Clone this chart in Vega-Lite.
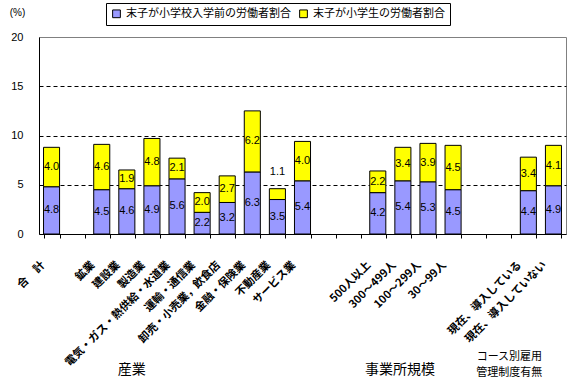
{
  "$schema": "https://vega.github.io/schema/vega-lite/v6.json",
  "width": 527,
  "height": 197,
  "autosize": {"type": "none"},
  "padding": {"left": 39, "top": 37, "right": 8, "bottom": 152},
  "background": "white",
  "config": {
    "view": {"stroke": "#808080", "strokeWidth": 1},
    "font": "Noto Sans CJK JP"
  },
  "datasets": {
    "rates": [
      {"cat": "合　計", "series": "末子が小学校入学前の労働者割合", "value": 4.8},
      {"cat": "合　計", "series": "末子が小学生の労働者割合", "value": 4.0},
      {"cat": "鉱業", "series": "末子が小学校入学前の労働者割合", "value": 4.5},
      {"cat": "鉱業", "series": "末子が小学生の労働者割合", "value": 4.6},
      {"cat": "建設業", "series": "末子が小学校入学前の労働者割合", "value": 4.6},
      {"cat": "建設業", "series": "末子が小学生の労働者割合", "value": 1.9},
      {"cat": "製造業", "series": "末子が小学校入学前の労働者割合", "value": 4.9},
      {"cat": "製造業", "series": "末子が小学生の労働者割合", "value": 4.8},
      {"cat": "電気・ガス・熱供給・水道業", "series": "末子が小学校入学前の労働者割合", "value": 5.6},
      {"cat": "電気・ガス・熱供給・水道業", "series": "末子が小学生の労働者割合", "value": 2.1},
      {"cat": "運輸・通信業", "series": "末子が小学校入学前の労働者割合", "value": 2.2},
      {"cat": "運輸・通信業", "series": "末子が小学生の労働者割合", "value": 2.0},
      {"cat": "卸売・小売業，飲食店", "series": "末子が小学校入学前の労働者割合", "value": 3.2},
      {"cat": "卸売・小売業，飲食店", "series": "末子が小学生の労働者割合", "value": 2.7},
      {"cat": "金融・保険業", "series": "末子が小学校入学前の労働者割合", "value": 6.3},
      {"cat": "金融・保険業", "series": "末子が小学生の労働者割合", "value": 6.2},
      {"cat": "不動産業", "series": "末子が小学校入学前の労働者割合", "value": 3.5},
      {"cat": "不動産業", "series": "末子が小学生の労働者割合", "value": 1.1},
      {"cat": "サービス業", "series": "末子が小学校入学前の労働者割合", "value": 5.4},
      {"cat": "サービス業", "series": "末子が小学生の労働者割合", "value": 4.0},
      {"cat": "500人以上", "series": "末子が小学校入学前の労働者割合", "value": 4.2},
      {"cat": "500人以上", "series": "末子が小学生の労働者割合", "value": 2.2},
      {"cat": "300～499人", "series": "末子が小学校入学前の労働者割合", "value": 5.4},
      {"cat": "300～499人", "series": "末子が小学生の労働者割合", "value": 3.4},
      {"cat": "100～299人", "series": "末子が小学校入学前の労働者割合", "value": 5.3},
      {"cat": "100～299人", "series": "末子が小学生の労働者割合", "value": 3.9},
      {"cat": "30～99人", "series": "末子が小学校入学前の労働者割合", "value": 4.5},
      {"cat": "30～99人", "series": "末子が小学生の労働者割合", "value": 4.5},
      {"cat": "現在、導入している", "series": "末子が小学校入学前の労働者割合", "value": 4.4},
      {"cat": "現在、導入している", "series": "末子が小学生の労働者割合", "value": 3.4},
      {"cat": "現在、導入していない", "series": "末子が小学校入学前の労働者割合", "value": 4.9},
      {"cat": "現在、導入していない", "series": "末子が小学生の労働者割合", "value": 4.1}
    ]
  },
  "layer": [
    {
      "data": {"name": "rates"},
      "transform": [
        {"stack": "value", "groupby": ["cat"], "sort": [{"field": "series", "order": "ascending"}], "as": ["v0", "v1"]}
      ],
      "mark": {"type": "bar", "stroke": "black", "strokeWidth": 1},
      "encoding": {
        "x": {
          "field": "cat",
          "type": "nominal",
          "scale": {
            "domain": ["合　計", " ", "鉱業", "建設業", "製造業", "電気・ガス・熱供給・水道業", "運輸・通信業", "卸売・小売業，飲食店", "金融・保険業", "不動産業", "サービス業", "  ", "   ", "500人以上", "300～499人", "100～299人", "30～99人", "    ", "     ", "現在、導入している", "現在、導入していない"],
            "paddingInner": 0.36,
            "paddingOuter": 0.18
          },
          "axis": {
            "title": null,
            "labelAngle": -45,
            "labelAlign": "right",
            "labelBaseline": "middle",
            "labelFont": "Noto Sans CJK JP",
            "labelFontWeight": "bold",
            "labelFontSize": 11,
            "labelColor": "black",
            "labelOffset": -9,
            "labelPadding": 25,
            "labelOverlap": false,
            "labelBound": false,
            "labelLimit": 300,
            "tickBand": "extent",
            "tickColor": "black",
            "tickSize": 4,
            "domainColor": "black",
            "grid": false
          }
        },
        "y": {
          "field": "v0",
          "type": "quantitative",
          "scale": {"domain": [0, 20], "nice": false},
          "axis": {
            "title": "(%)",
            "titleAngle": 0,
            "titleX": -22,
            "titleY": -25,
            "titleAlign": "center",
            "titleBaseline": "middle",
            "titleFont": "Liberation Sans",
            "titleFontSize": 10,
            "titleFontWeight": "normal",
            "titleColor": "black",
            "values": [0, 5, 10, 15, 20],
            "labelFont": "Liberation Sans",
            "labelFontSize": 11,
            "labelColor": "black",
            "labelPadding": 16,
            "ticks": false,
            "tickSize": 0,
            "domainColor": "black",
            "grid": true,
            "gridColor": {"condition": {"test": "datum.value == 0 || datum.value == 20", "value": "transparent"}, "value": "black"},
            "gridDash": [4, 3]
          }
        },
        "y2": {"field": "v1"},
        "color": {
          "field": "series",
          "type": "nominal",
          "scale": {"domain": ["末子が小学校入学前の労働者割合", "末子が小学生の労働者割合"], "range": ["#9999FF", "#FFFF00"]},
          "legend": {
            "orient": "none",
            "legendX": 67,
            "legendY": -34,
            "direction": "horizontal",
            "title": null,
            "strokeColor": "black",
            "fillColor": "white",
            "padding": 5,
            "labelFont": "Noto Sans CJK JP",
            "labelFontSize": 11,
            "labelColor": "black",
            "labelLimit": 300,
            "labelOffset": 4,
            "columnPadding": 6,
            "symbolType": "square",
            "symbolSize": 60,
            "symbolStrokeColor": "black",
            "symbolStrokeWidth": 1,
            "symbolOpacity": 1
          }
        }
      }
    },
    {
      "data": {"name": "rates"},
      "transform": [
        {"stack": "value", "groupby": ["cat"], "sort": [{"field": "series", "order": "ascending"}], "as": ["v0", "v1"]},
        {"filter": "datum.value >= 1.5"},
        {"fold": ["v0", "v1"], "as": ["edge", "pos"]},
        {"aggregate": [{"op": "mean", "field": "pos", "as": "mid"}], "groupby": ["cat", "series", "value"]}
      ],
      "mark": {"type": "text", "font": "Liberation Sans", "fontSize": 11, "color": "black", "baseline": "middle"},
      "encoding": {
        "x": {"field": "cat", "type": "nominal"},
        "y": {"field": "mid", "type": "quantitative"},
        "text": {"field": "value", "type": "quantitative", "format": ".1f"}
      }
    },
    {
      "data": {"name": "rates"},
      "transform": [
        {"stack": "value", "groupby": ["cat"], "sort": [{"field": "series", "order": "ascending"}], "as": ["v0", "v1"]},
        {"filter": "datum.value < 1.5"}
      ],
      "mark": {"type": "text", "font": "Liberation Sans", "fontSize": 11, "color": "black", "baseline": "middle", "dy": -17},
      "encoding": {
        "x": {"field": "cat", "type": "nominal"},
        "y": {"field": "v1", "type": "quantitative"},
        "text": {"field": "value", "type": "quantitative", "format": ".1f"}
      }
    },
    {
      "data": {"values": [{"cat": "建設業", "label": "産業"}]},
      "mark": {"type": "text", "font": "Noto Sans CJK JP", "fontSize": 14, "color": "black", "baseline": "middle", "dx": 5},
      "encoding": {
        "x": {"field": "cat", "type": "nominal"},
        "y": {"datum": -13.8},
        "text": {"field": "label"}
      }
    },
    {
      "data": {"values": [{"cat": "300～499人", "label": "事業所規模"}]},
      "mark": {"type": "text", "font": "Noto Sans CJK JP", "fontSize": 14, "color": "black", "baseline": "middle", "dx": -3},
      "encoding": {
        "x": {"field": "cat", "type": "nominal"},
        "y": {"datum": -13.8},
        "text": {"field": "label"}
      }
    },
    {
      "data": {"values": [{"cat": "現在、導入している", "label": "コース別雇用\n管理制度有無"}]},
      "mark": {"type": "text", "font": "Noto Sans CJK JP", "fontSize": 11, "color": "black", "baseline": "middle", "dx": -19, "lineBreak": "\n", "lineHeight": 16},
      "encoding": {
        "x": {"field": "cat", "type": "nominal"},
        "y": {"datum": -12.5},
        "text": {"field": "label"}
      }
    }
  ]
}
